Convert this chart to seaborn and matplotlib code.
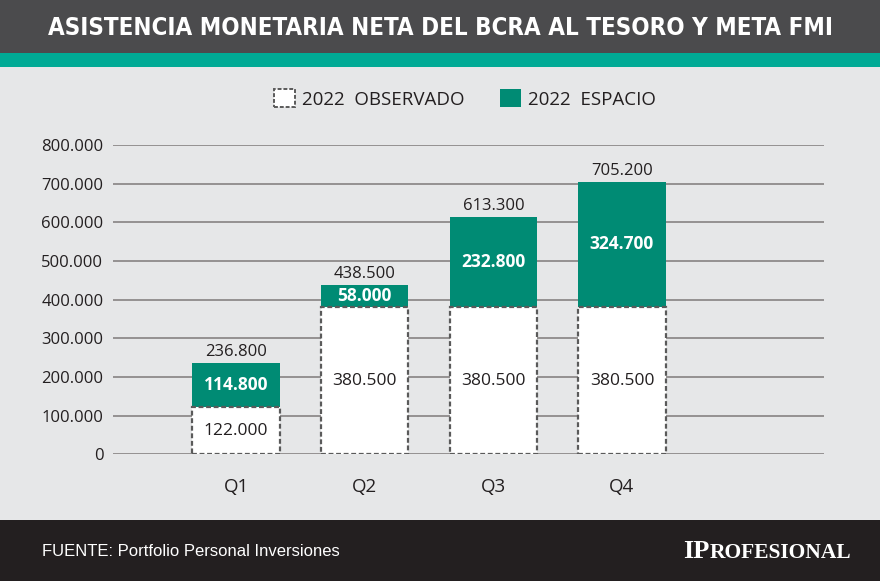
import matplotlib
matplotlib.use("Agg")
import matplotlib.pyplot as plt
import seaborn as sns
import pandas as pd
from matplotlib.patches import Rectangle, Patch

quarters = ["Q1", "Q2", "Q3", "Q4"]
observado = [122000, 380500, 380500, 380500]
espacio = [114800, 58000, 232800, 324700]
totales = [236800, 438500, 613300, 705200]
y_ticks = [0, 100000, 200000, 300000, 400000, 500000, 600000, 700000, 800000]

GREEN = "#008b74"
TEAL = "#00aa95"
BG = "#e6e7e8"
TEXT = "#231f20"


def fmt(v):
    return f"{v:,.0f}".replace(",", ".")


sns.set_style("white")
plt.rcParams["font.family"] = ["Open Sans", "DejaVu Sans"]

W, H = 880, 581
fig = plt.figure(figsize=(W / 100, H / 100), dpi=100, facecolor=BG)

# header / footer bands
fig.patches.append(Rectangle((0, 1 - 53 / H), 1, 53 / H, transform=fig.transFigure,
                             facecolor="#4b4b4d", edgecolor="none", zorder=0))
fig.patches.append(Rectangle((0, 1 - 67 / H), 1, 14 / H, transform=fig.transFigure,
                             facecolor=TEAL, edgecolor="none", zorder=0))
fig.patches.append(Rectangle((0, 0), 1, 61 / H, transform=fig.transFigure,
                             facecolor="#231f20", edgecolor="none", zorder=0))

title = fig.text(0.5, 1 - 28 / H, "ASISTENCIA MONETARIA NETA DEL BCRA AL TESORO Y META FMI",
                 ha="center", va="center", color="white", fontsize=20, fontweight="bold",
                 family="DejaVu Sans", fontstretch="condensed")
# shrink the title to the width it has in the reference (~781 px)
r = fig.canvas.get_renderer()
tw = title.get_window_extent(r).width
if tw > 781:
    title.set_fontsize(20 * 781 / tw)

fig.text(42 / W, 1 - 551 / H, "FUENTE: Portfolio Personal Inversiones",
         ha="left", va="center", color="white", fontsize=12,
         family=["Liberation Sans", "DejaVu Sans"])

# logo in small caps: big "IP", smaller rest, right edge at x=851
logo2 = fig.text(851 / W, 1 - 558 / H, "ROFESIONAL", ha="right", va="baseline",
                 color="white", fontsize=15.5, fontweight="bold",
                 family=["Liberation Serif", "DejaVu Serif"])
lw2 = logo2.get_window_extent(r).width
fig.text((851 - lw2) / W, 1 - 558 / H, "IP", ha="right", va="baseline",
         color="white", fontsize=19, fontweight="bold",
         family=["Liberation Serif", "DejaVu Serif"])

ax = fig.add_axes([113 / W, 1 - 454.3 / H, (824 - 113) / W, (454.3 - 145) / H])
ax.set_facecolor(BG)

df = pd.DataFrame({"quarter": quarters, "observado": observado,
                   "espacio": espacio, "total": totales})

sns.barplot(data=df, x="quarter", y="total", color=GREEN, width=0.68,
            saturation=1, edgecolor="none", ax=ax, zorder=3)
sns.barplot(data=df, x="quarter", y="observado", color="white", width=0.68,
            saturation=1, edgecolor="#5a5a5a", linewidth=1.6,
            linestyle=(0, (2.2, 1.2)), ax=ax, zorder=4)

ax.set_xlim(-0.956, 4.57)
ax.set_ylim(0, 800000)
ax.set_yticks(y_ticks)
ax.set_yticklabels([fmt(v) for v in y_ticks], fontsize=12, color=TEXT)
ax.tick_params(axis="y", length=0, pad=7)
ax.tick_params(axis="x", length=0, pad=17, labelsize=13.5, labelcolor=TEXT)
ax.set_xlabel("")
ax.set_ylabel("")
for v in y_ticks:
    ax.axhline(v, color="#8e8a8a", linewidth=1.3, zorder=1)
for s in ax.spines.values():
    s.set_visible(False)

for i in range(len(quarters)):
    ax.text(i, observado[i] / 2, fmt(observado[i]), ha="center", va="center",
            fontsize=12.5, color=TEXT, zorder=6)
    ax.text(i, observado[i] + espacio[i] / 2, fmt(espacio[i]), ha="center",
            va="center", fontsize=12.5, fontweight="bold", color="white", zorder=6)
    ax.annotate(fmt(totales[i]), (i, totales[i]), xytext=(0, 2),
                textcoords="offset points", ha="center", va="bottom",
                fontsize=12, color=TEXT, zorder=6)

handles = [Patch(facecolor="white", edgecolor="#5a5a5a", linewidth=1.4,
                 linestyle=(0, (2, 1))),
           Patch(facecolor=GREEN, edgecolor="none")]
fig.legend(handles, ["2022  OBSERVADO", "2022  ESPACIO"], loc="center",
           bbox_to_anchor=(465 / W, 1 - 99 / H), ncol=2, frameon=False,
           fontsize=13.5, handlelength=1.1, handleheight=1.1, handletextpad=0.4,
           columnspacing=1.9, labelcolor=TEXT)

fig.savefig("out.png", dpi=100, facecolor=BG)
